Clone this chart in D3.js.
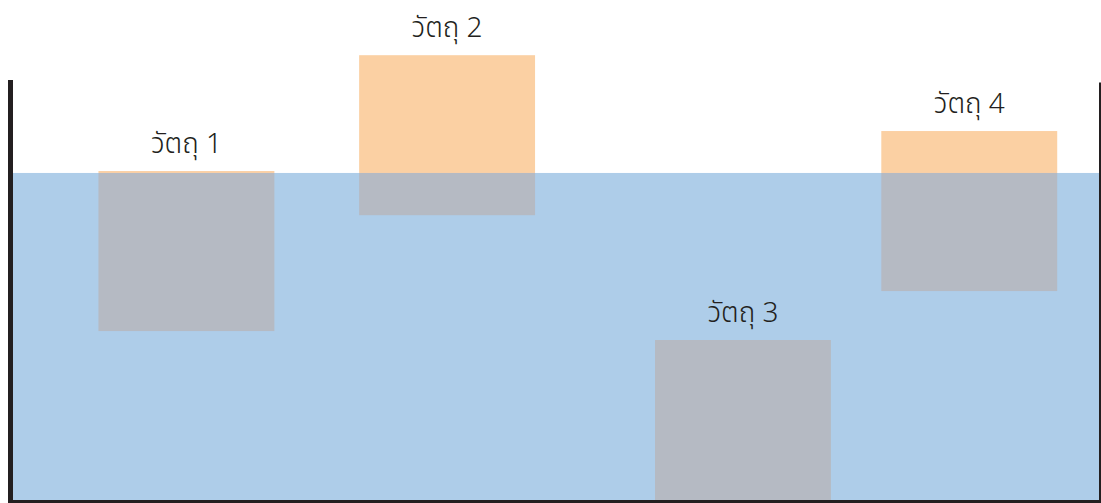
<!DOCTYPE html>
<html>
<head>
<meta charset="utf-8">
<script src="https://cdn.jsdelivr.net/npm/d3@7"></script>
<style>
  body { margin: 0; background: #fff; }
  svg { display: block; }
</style>
</head>
<body>
<div id="chart"></div>
<script>
"use strict";

// tank + objects, units are "cm" (roughly 16px each)
var names = ["วัตถุ 1", "วัตถุ 2", "วัตถุ 3", "วัตถุ 4"];
var boxLeft = [5.5, 21.8, 40.3, 54.45];   // left edge of each object
var boxBottom = [10.56, 17.8, 0, 13.06];  // bottom of object above tank floor
var boxW = 11, boxH = 10;
var waterLevel = 20.44;
var tankW = 68.125, tankH = 26.25, rightWallH = 26.1;

var width = 1101, height = 503;

var svg = d3.select("#chart").append("svg")
	.attr("width", width)
	.attr("height", height);

var x = d3.scaleLinear().domain([0, tankW]).range([10.5, 1100]);
var y = d3.scaleLinear().domain([0, tankH]).range([500, 80]);

// water
svg.append("rect")
	.attr("x", x(0))
	.attr("y", y(waterLevel))
	.attr("width", x(tankW) - x(0))
	.attr("height", y(0) - y(waterLevel))
	.style("fill", "#aecde9");

var boxes = names.map(function (n, i) {
	return { name: n, left: boxLeft[i], bottom: boxBottom[i] };
});

var g = svg.selectAll("g.obj")
	.data(boxes)
	.enter().append("g")
	.attr("class", "obj");

// part sticking out of the water
g.filter(function (d) { return d.bottom + boxH > waterLevel; })
	.append("rect")
	.attr("x", function (d) { return x(d.left); })
	.attr("y", function (d) { return y(d.bottom + boxH); })
	.attr("width", x(boxW) - x(0))
	.attr("height", function (d) { return y(Math.max(d.bottom, waterLevel)) - y(d.bottom + boxH); })
	.style("fill", "#fbd0a3");

// submerged part
g.filter(function (d) { return d.bottom < waterLevel; })
	.append("rect")
	.attr("x", function (d) { return x(d.left); })
	.attr("y", function (d) { return y(Math.min(d.bottom + boxH, waterLevel)); })
	.attr("width", x(boxW) - x(0))
	.attr("height", function (d) { return y(d.bottom) - y(Math.min(d.bottom + boxH, waterLevel)); })
	.style("fill", "#b5bac3");

g.append("text")
	.attr("x", function (d) { return x(d.left + boxW / 2); })
	.attr("y", function (d) { return y(d.bottom + boxH) - 18; })
	.attr("text-anchor", "middle")
	.style("font-family", "'Noto Sans Thai', 'Noto Sans', 'DejaVu Sans', sans-serif")
	.style("font-size", "28px")
	.style("font-weight", 300)
	.style("fill", "#231f20")
	.text(function (d) { return d.name; });

// tank walls
svg.append("line")
	.attr("x1", 10.5).attr("x2", 10.5)
	.attr("y1", y(tankH)).attr("y2", 503)
	.style("stroke", "#231f20").style("stroke-width", 5);
svg.append("line")
	.attr("x1", 1100).attr("x2", 1100)
	.attr("y1", y(rightWallH)).attr("y2", 503)
	.style("stroke", "#231f20").style("stroke-width", 2);
svg.append("line")
	.attr("x1", 8).attr("x2", 1101)
	.attr("y1", 501.5).attr("y2", 501.5)
	.style("stroke", "#231f20").style("stroke-width", 3);
</script>
</body>
</html>
